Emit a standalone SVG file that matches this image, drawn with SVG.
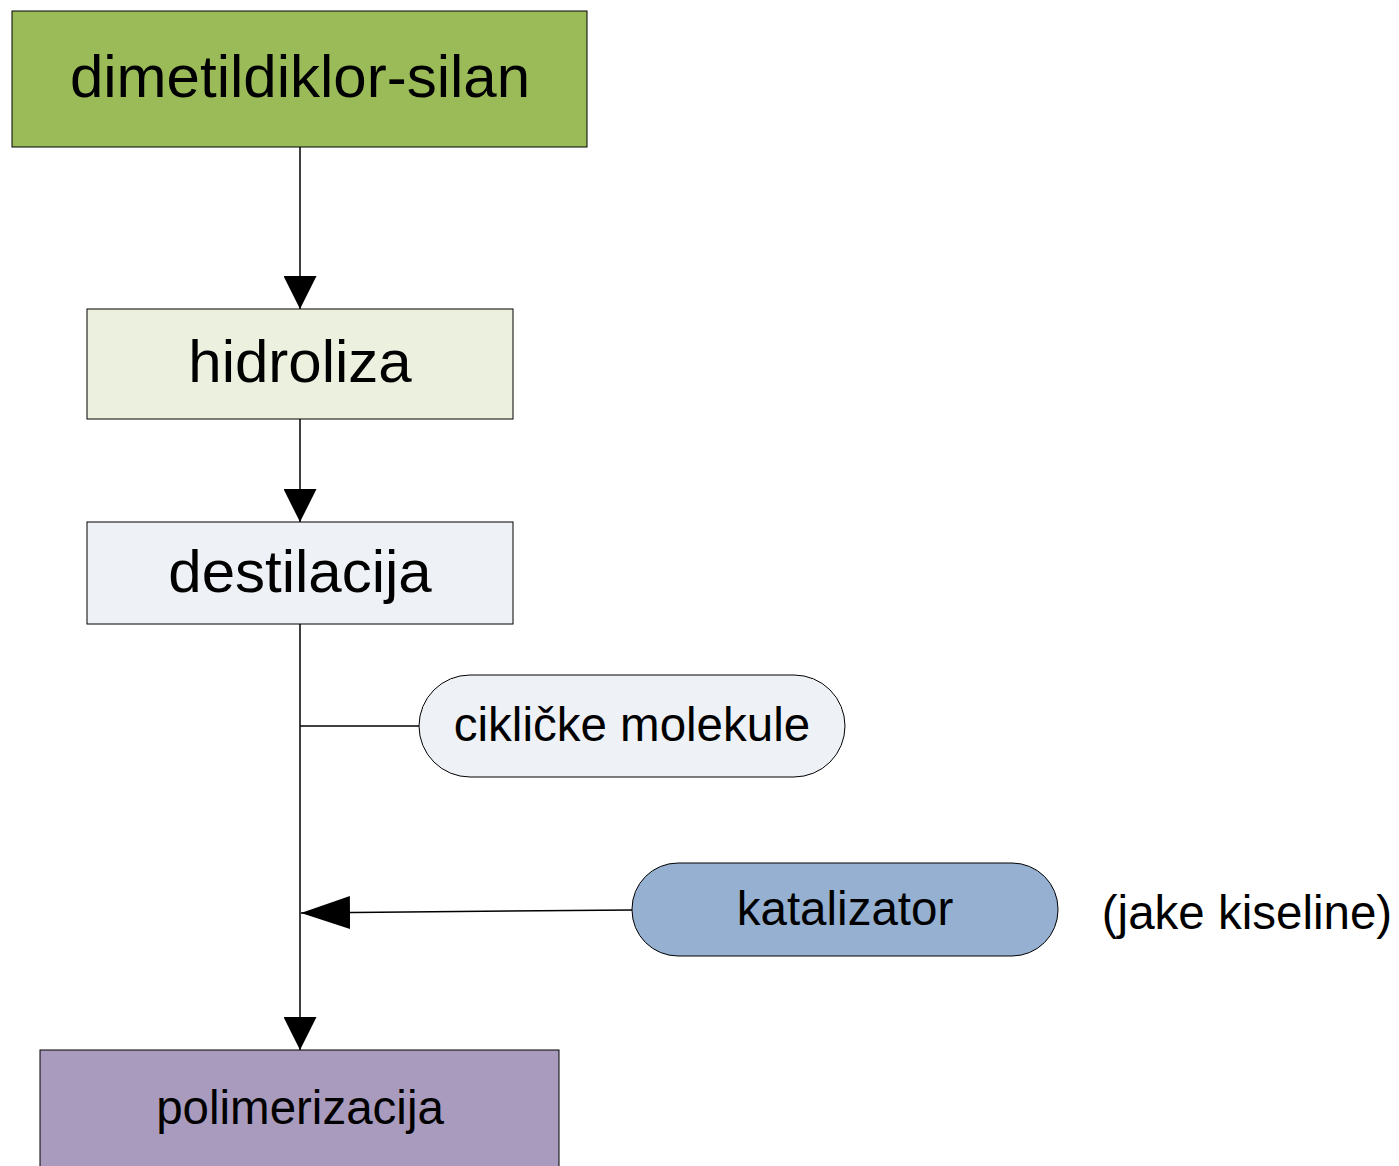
<svg xmlns="http://www.w3.org/2000/svg" width="1399" height="1166" viewBox="0 0 1399 1166">
<style>
.box{stroke:#000;stroke-width:1}
.t{font-family:"Liberation Sans",Arial,sans-serif;fill:#000;text-anchor:middle}
.big{font-size:60px}
.mid{font-size:47.5px}
.conn{stroke:#000;stroke-width:1.5;fill:none}
</style>
<defs>
<marker id="arr" viewBox="0 0 10 10" refX="10" refY="5" markerWidth="33" markerHeight="33" markerUnits="userSpaceOnUse" orient="auto">
<path d="M0,0 L10,5 L0,10 Z" fill="#000"/>
</marker>
<marker id="arrL" viewBox="0 0 49 33" refX="49" refY="16.5" markerWidth="49" markerHeight="33" markerUnits="userSpaceOnUse" orient="auto">
<path d="M0,0 L49,16.5 L0,33 Z" fill="#000"/>
</marker>
</defs>
<rect width="1399" height="1166" fill="#fff"/>
<g id="connectors">
<line class="conn" x1="300" y1="147" x2="300" y2="309" marker-end="url(#arr)"/>
<line class="conn" x1="300" y1="419" x2="300" y2="522" marker-end="url(#arr)"/>
<line class="conn" x1="300" y1="624" x2="300" y2="1050" marker-end="url(#arr)"/>
<line class="conn" x1="300" y1="726" x2="419" y2="726"/>
<line class="conn" x1="632" y1="910" x2="301" y2="913" marker-end="url(#arrL)"/>
</g>
<g id="n1">
<rect class="box" x="12" y="11" width="575" height="136" fill="#9BBB59"/>
<text class="t big" x="300" y="97">dimetildiklor-silan</text>
</g>
<g id="n2">
<rect class="box" x="87" y="309" width="426" height="110" fill="#EBF1DE"/>
<text class="t big" x="300" y="382">hidroliza</text>
</g>
<g id="n3">
<rect class="box" x="87" y="522" width="426" height="102" fill="#EEF1F6"/>
<text class="t big" x="300" y="592">destilacija</text>
</g>
<g id="n4">
<rect class="box" x="419" y="675" width="426" height="102" rx="51" ry="51" fill="#EEF1F6"/>
<text class="t mid" x="632" y="741">cikličke molekule</text>
</g>
<g id="n5">
<rect class="box" x="632" y="863" width="426" height="93" rx="46" ry="46" fill="#95B0D0"/>
<text class="t mid" x="845" y="925">katalizator</text>
</g>
<g id="n6">
<text class="t mid" x="1247" y="929">(jake kiseline)</text>
</g>
<g id="n7">
<rect class="box" x="40" y="1050" width="519" height="130" fill="#A99BBD"/>
<text class="t mid" x="300" y="1124">polimerizacija</text>
</g>
</svg>
